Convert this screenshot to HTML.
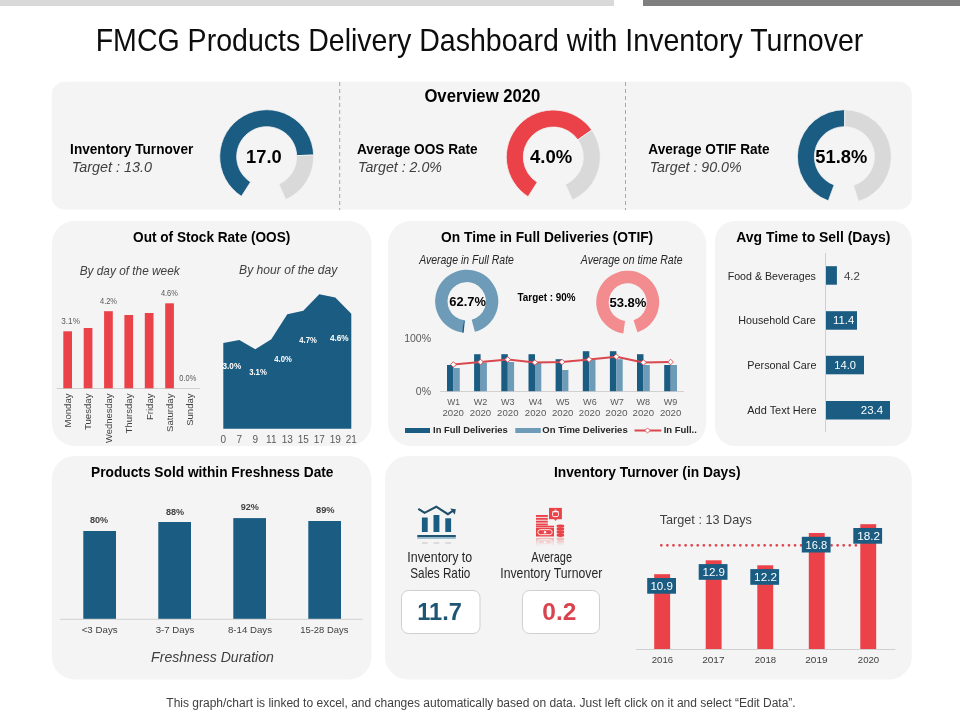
<!DOCTYPE html>
<html lang="en"><head><meta charset="utf-8"><title>FMCG Products Delivery Dashboard with Inventory Turnover</title>
<style>html,body{margin:0;padding:0;background:#fff}body{width:960px;height:720px;overflow:hidden}svg{display:block;font-family:"Liberation Sans", Arial, sans-serif}</style></head><body>
<svg width="960" height="720" viewBox="0 0 960 720">
<rect x="0" y="0" width="960" height="720" fill="#fff"/>
<rect x="0" y="0" width="614" height="6" fill="#d9d9d9"/>
<rect x="643" y="0" width="317" height="6" fill="#7f7f7f"/>
<text x="95.7" y="51.3" font-size="31.8" fill="#0d0d0d" textLength="767.6" lengthAdjust="spacingAndGlyphs">FMCG Products Delivery Dashboard with Inventory Turnover</text>
<rect x="51.7" y="81.8" width="860.1" height="127.7" fill="#f4f4f4" rx="13"/>
<rect x="51.8" y="221" width="319.7" height="225" fill="#f4f4f4" rx="23"/>
<rect x="388" y="221" width="318.3" height="225" fill="#f4f4f4" rx="23"/>
<rect x="715" y="221" width="196.8" height="225" fill="#f4f4f4" rx="20"/>
<rect x="51.8" y="456" width="319.7" height="223.6" fill="#f4f4f4" rx="23"/>
<rect x="385" y="456" width="526.8" height="223.6" fill="#f4f4f4" rx="23"/>
<line x1="339.7" y1="82" x2="339.7" y2="210" stroke="#a6a6a6" stroke-width="1" stroke-dasharray="4 3"/>
<line x1="625.5" y1="82" x2="625.5" y2="210" stroke="#a6a6a6" stroke-width="1" stroke-dasharray="4 3"/>
<text x="424.4" y="102.3" font-size="18.8" fill="#000" font-weight="bold" textLength="116.0" lengthAdjust="spacingAndGlyphs">Overview 2020</text>
<text x="70.1" y="154" font-size="15" fill="#000" font-weight="bold" textLength="123.2" lengthAdjust="spacingAndGlyphs">Inventory Turnover</text>
<text x="71.7" y="171.8" font-size="13.9" fill="#404040" font-style="italic" textLength="80.2" lengthAdjust="spacingAndGlyphs">Target : 13.0</text>
<text x="357.0" y="154" font-size="15" fill="#000" font-weight="bold" textLength="120.7" lengthAdjust="spacingAndGlyphs">Average OOS Rate</text>
<text x="358.1" y="171.8" font-size="13.9" fill="#404040" font-style="italic" textLength="83.8" lengthAdjust="spacingAndGlyphs">Target : 2.0%</text>
<text x="648.3" y="154" font-size="15" fill="#000" font-weight="bold" textLength="121.4" lengthAdjust="spacingAndGlyphs">Average OTIF Rate</text>
<text x="649.7" y="171.8" font-size="13.9" fill="#404040" font-style="italic" textLength="92.0" lengthAdjust="spacingAndGlyphs">Target : 90.0%</text>
<path d="M241.45 196.34A47 47 0 1 1 313.67 155.06L296.68 155.65A30 30 0 1 0 250.58 182.00Z" fill="#1b5c82" stroke="#f4f4f4" stroke-width="0.8"/>
<path d="M313.67 155.06A47 47 0 0 1 285.82 199.64L278.90 184.11A30 30 0 0 0 296.68 155.65Z" fill="#d9d9d9" stroke="#f4f4f4" stroke-width="0.8"/>
<text x="246.1" y="162.6" font-size="18.2" fill="#000" font-weight="bold" textLength="35.6" lengthAdjust="spacingAndGlyphs">17.0</text>
<path d="M528.05 196.64A47 47 0 1 1 591.80 130.04L577.87 139.79A30 30 0 1 0 537.18 182.30Z" fill="#ea4248" stroke="#f4f4f4" stroke-width="0.8"/>
<path d="M591.80 130.04A47 47 0 0 1 572.42 199.94L565.50 184.41A30 30 0 0 0 577.87 139.79Z" fill="#d9d9d9" stroke="#f4f4f4" stroke-width="0.8"/>
<text x="530" y="162.6" font-size="18.2" fill="#000" font-weight="bold" textLength="42.2" lengthAdjust="spacingAndGlyphs">4.0%</text>
<path d="M828.33 200.87A47 47 0 0 1 844.81 109.70L844.66 126.70A30 30 0 0 0 834.14 184.89Z" fill="#1b5c82" stroke="#f4f4f4" stroke-width="0.8"/>
<path d="M844.81 109.70A47 47 0 0 1 858.53 201.52L853.42 185.31A30 30 0 0 0 844.66 126.70Z" fill="#d9d9d9" stroke="#f4f4f4" stroke-width="0.8"/>
<text x="815.3" y="162.6" font-size="18.2" fill="#000" font-weight="bold" textLength="52.0" lengthAdjust="spacingAndGlyphs">51.8%</text>
<text x="133.1" y="242" font-size="15" fill="#000" font-weight="bold" textLength="157.2" lengthAdjust="spacingAndGlyphs">Out of Stock Rate (OOS)</text>
<text x="79.7" y="274.7" font-size="13.4" fill="#404040" font-style="italic" textLength="100.0" lengthAdjust="spacingAndGlyphs">By day of the week</text>
<text x="239.1" y="274.3" font-size="13.4" fill="#404040" font-style="italic" textLength="98.3" lengthAdjust="spacingAndGlyphs">By hour of the day</text>
<line x1="56.7" y1="388.5" x2="200" y2="388.5" stroke="#d0d0d0" stroke-width="1"/>
<rect x="63.3" y="331.3" width="8.7" height="57.0" fill="#ea4248"/>
<rect x="83.7" y="328" width="8.7" height="60.3" fill="#ea4248"/>
<rect x="104.1" y="311.2" width="8.7" height="77.1" fill="#ea4248"/>
<rect x="124.4" y="315" width="8.7" height="73.3" fill="#ea4248"/>
<rect x="144.8" y="313" width="8.7" height="75.3" fill="#ea4248"/>
<rect x="165.2" y="303.3" width="8.7" height="85.0" fill="#ea4248"/>
<text transform="translate(71.0 393.5) rotate(-90)" font-size="9.5" fill="#404040" text-anchor="end" textLength="34" lengthAdjust="spacingAndGlyphs">Monday</text>
<text transform="translate(91.4 393.5) rotate(-90)" font-size="9.5" fill="#404040" text-anchor="end" textLength="36.5" lengthAdjust="spacingAndGlyphs">Tuesday</text>
<text transform="translate(111.8 393.5) rotate(-90)" font-size="9.5" fill="#404040" text-anchor="end" textLength="49.5" lengthAdjust="spacingAndGlyphs">Wednesday</text>
<text transform="translate(132.2 393.5) rotate(-90)" font-size="9.5" fill="#404040" text-anchor="end" textLength="40" lengthAdjust="spacingAndGlyphs">Thursday</text>
<text transform="translate(152.6 393.5) rotate(-90)" font-size="9.5" fill="#404040" text-anchor="end" textLength="26.5" lengthAdjust="spacingAndGlyphs">Friday</text>
<text transform="translate(172.9 393.5) rotate(-90)" font-size="9.5" fill="#404040" text-anchor="end" textLength="38.5" lengthAdjust="spacingAndGlyphs">Saturday</text>
<text transform="translate(193.3 393.5) rotate(-90)" font-size="9.5" fill="#404040" text-anchor="end" textLength="32.3" lengthAdjust="spacingAndGlyphs">Sunday</text>
<text x="61.3" y="323.7" font-size="8.5" fill="#595959" textLength="18.6" lengthAdjust="spacingAndGlyphs">3.1%</text>
<text x="100.0" y="303.7" font-size="8.5" fill="#595959" textLength="17.0" lengthAdjust="spacingAndGlyphs">4.2%</text>
<text x="160.9" y="295.8" font-size="8.5" fill="#595959" textLength="17.0" lengthAdjust="spacingAndGlyphs">4.6%</text>
<text x="179.3" y="380.8" font-size="8.5" fill="#595959" textLength="17.0" lengthAdjust="spacingAndGlyphs">0.0%</text>
<path d="M223.3 428.7 L223.3 343 L239.3 340 L255.3 349.2 L271.3 339.2 L287.3 314.2 L303.3 310.8 L319.3 294.2 L335.3 297.5 L351.3 313.7 L351.3 428.7Z" fill="#1b5c82"/>
<text x="222.55" y="368.7" font-size="8.4" fill="#fff" font-weight="bold" textLength="18.6" lengthAdjust="spacingAndGlyphs">3.0%</text>
<text x="249.15" y="375" font-size="8.4" fill="#fff" font-weight="bold" textLength="17.7" lengthAdjust="spacingAndGlyphs">3.1%</text>
<text x="274.25" y="361.5" font-size="8.4" fill="#fff" font-weight="bold" textLength="17.5" lengthAdjust="spacingAndGlyphs">4.0%</text>
<text x="299.25" y="342.5" font-size="8.4" fill="#fff" font-weight="bold" textLength="17.5" lengthAdjust="spacingAndGlyphs">4.7%</text>
<text x="329.9" y="340.8" font-size="8.4" fill="#fff" font-weight="bold" textLength="18.8" lengthAdjust="spacingAndGlyphs">4.6%</text>
<text x="223.3" y="442.5" font-size="10" fill="#595959" text-anchor="middle">0</text>
<text x="239.3" y="442.5" font-size="10" fill="#595959" text-anchor="middle">7</text>
<text x="255.3" y="442.5" font-size="10" fill="#595959" text-anchor="middle">9</text>
<text x="271.3" y="442.5" font-size="10" fill="#595959" text-anchor="middle">11</text>
<text x="287.3" y="442.5" font-size="10" fill="#595959" text-anchor="middle">13</text>
<text x="303.3" y="442.5" font-size="10" fill="#595959" text-anchor="middle">15</text>
<text x="319.3" y="442.5" font-size="10" fill="#595959" text-anchor="middle">17</text>
<text x="335.3" y="442.5" font-size="10" fill="#595959" text-anchor="middle">19</text>
<text x="351.3" y="442.5" font-size="10" fill="#595959" text-anchor="middle">21</text>
<text x="441.1" y="242" font-size="15" fill="#000" font-weight="bold" textLength="212.1" lengthAdjust="spacingAndGlyphs">On Time in Full Deliveries (OTIF)</text>
<text x="419.2" y="263.8" font-size="12.2" fill="#262626" font-style="italic" textLength="94.7" lengthAdjust="spacingAndGlyphs">Average in Full Rate</text>
<text x="580.8" y="263.8" font-size="12.2" fill="#262626" font-style="italic" textLength="101.7" lengthAdjust="spacingAndGlyphs">Average on time Rate</text>
<path d="M462.30 332.59A31.6 31.6 0 1 1 474.88 331.82L471.67 319.85A19.2 19.2 0 1 0 464.03 320.31Z" fill="#6e9cb8"/>
<path d="M463.67 332.75A31.6 31.6 0 0 1 462.03 332.55L463.86 320.29A19.2 19.2 0 0 0 464.86 320.41Z" fill="#1b5c82"/>
<text x="449.3" y="305.6" font-size="13" fill="#000" font-weight="bold" textLength="36.6" lengthAdjust="spacingAndGlyphs">62.7%</text>
<path d="M623.32 333.39A31.5 31.5 0 1 1 637.43 332.16L633.57 320.27A19 19 0 1 0 625.06 321.02Z" fill="#f28c8f"/>
<text x="609.4" y="306.5" font-size="13" fill="#000" font-weight="bold" textLength="37.0" lengthAdjust="spacingAndGlyphs">53.8%</text>
<text x="517.5" y="300.6" font-size="10" fill="#000" font-weight="bold" textLength="58.0" lengthAdjust="spacingAndGlyphs">Target : 90%</text>
<text x="431" y="341.7" font-size="10.5" fill="#595959" text-anchor="end">100%</text>
<text x="431" y="395" font-size="10.5" fill="#595959" text-anchor="end">0%</text>
<line x1="440" y1="391.5" x2="684" y2="391.5" stroke="#d0d0d0" stroke-width="1"/>
<rect x="447.0" y="365" width="6.5" height="26.2" fill="#1b5c82"/>
<rect x="453.5" y="368" width="6.3" height="23.2" fill="#6e9cb8"/>
<text x="447.35" y="404.7" font-size="9.5" fill="#595959" textLength="12.7" lengthAdjust="spacingAndGlyphs">W1</text>
<text x="442.5" y="415.8" font-size="9.5" fill="#595959" textLength="21.4" lengthAdjust="spacingAndGlyphs">2020</text>
<rect x="474.1" y="354.2" width="6.5" height="37.0" fill="#1b5c82"/>
<rect x="480.6" y="362.5" width="6.3" height="28.7" fill="#6e9cb8"/>
<text x="473.7" y="404.7" font-size="9.5" fill="#595959" textLength="13.7" lengthAdjust="spacingAndGlyphs">W2</text>
<text x="469.8" y="415.8" font-size="9.5" fill="#595959" textLength="21.4" lengthAdjust="spacingAndGlyphs">2020</text>
<rect x="501.3" y="354.2" width="6.5" height="37.0" fill="#1b5c82"/>
<rect x="507.8" y="362" width="6.3" height="29.2" fill="#6e9cb8"/>
<text x="501.0" y="404.7" font-size="9.5" fill="#595959" textLength="13.6" lengthAdjust="spacingAndGlyphs">W3</text>
<text x="497.1" y="415.8" font-size="9.5" fill="#595959" textLength="21.4" lengthAdjust="spacingAndGlyphs">2020</text>
<rect x="528.5" y="354.2" width="6.5" height="37.0" fill="#1b5c82"/>
<rect x="535.0" y="363" width="6.3" height="28.2" fill="#6e9cb8"/>
<text x="528.8" y="404.7" font-size="9.5" fill="#595959" textLength="13.6" lengthAdjust="spacingAndGlyphs">W4</text>
<text x="524.85" y="415.8" font-size="9.5" fill="#595959" textLength="21.4" lengthAdjust="spacingAndGlyphs">2020</text>
<rect x="555.6" y="359.2" width="6.5" height="32.0" fill="#1b5c82"/>
<rect x="562.1" y="370" width="6.3" height="21.2" fill="#6e9cb8"/>
<text x="555.95" y="404.7" font-size="9.5" fill="#595959" textLength="13.6" lengthAdjust="spacingAndGlyphs">W5</text>
<text x="552.0" y="415.8" font-size="9.5" fill="#595959" textLength="21.4" lengthAdjust="spacingAndGlyphs">2020</text>
<rect x="582.8" y="351.2" width="6.5" height="40.0" fill="#1b5c82"/>
<rect x="589.2" y="360" width="6.3" height="31.2" fill="#6e9cb8"/>
<text x="583.1" y="404.7" font-size="9.5" fill="#595959" textLength="13.6" lengthAdjust="spacingAndGlyphs">W6</text>
<text x="578.85" y="415.8" font-size="9.5" fill="#595959" textLength="21.4" lengthAdjust="spacingAndGlyphs">2020</text>
<rect x="609.9" y="351.2" width="6.5" height="40.0" fill="#1b5c82"/>
<rect x="616.4" y="359.2" width="6.3" height="32.0" fill="#6e9cb8"/>
<text x="610.25" y="404.7" font-size="9.5" fill="#595959" textLength="13.6" lengthAdjust="spacingAndGlyphs">W7</text>
<text x="605.3" y="415.8" font-size="9.5" fill="#595959" textLength="22.4" lengthAdjust="spacingAndGlyphs">2020</text>
<rect x="637.0" y="354.2" width="6.5" height="37.0" fill="#1b5c82"/>
<rect x="643.5" y="365" width="6.3" height="26.2" fill="#6e9cb8"/>
<text x="636.5" y="404.7" font-size="9.5" fill="#595959" textLength="13.6" lengthAdjust="spacingAndGlyphs">W8</text>
<text x="632.6" y="415.8" font-size="9.5" fill="#595959" textLength="21.4" lengthAdjust="spacingAndGlyphs">2020</text>
<rect x="664.2" y="365" width="6.5" height="26.2" fill="#1b5c82"/>
<rect x="670.7" y="365" width="6.3" height="26.2" fill="#6e9cb8"/>
<text x="663.8" y="404.7" font-size="9.5" fill="#595959" textLength="13.6" lengthAdjust="spacingAndGlyphs">W9</text>
<text x="659.9" y="415.8" font-size="9.5" fill="#595959" textLength="21.4" lengthAdjust="spacingAndGlyphs">2020</text>
<polyline points="453.4,364.5 480.5,362 507.7,359.5 534.9,362.5 562.0,362 589.1,359.5 616.3,356.7 643.4,362.5 670.6,362" fill="none" stroke="#d9484f" stroke-width="2" stroke-linejoin="round"/>
<path d="M450.6 364.5L453.4 361.7L456.2 364.5L453.4 367.3Z" fill="#fff" stroke="#d9484f" stroke-width="0.9"/>
<path d="M477.7 362L480.5 359.2L483.3 362L480.5 364.8Z" fill="#fff" stroke="#d9484f" stroke-width="0.9"/>
<path d="M504.9 359.5L507.7 356.7L510.5 359.5L507.7 362.3Z" fill="#fff" stroke="#d9484f" stroke-width="0.9"/>
<path d="M532.1 362.5L534.9 359.7L537.7 362.5L534.9 365.3Z" fill="#fff" stroke="#d9484f" stroke-width="0.9"/>
<path d="M559.2 362L562.0 359.2L564.8 362L562.0 364.8Z" fill="#fff" stroke="#d9484f" stroke-width="0.9"/>
<path d="M586.3 359.5L589.1 356.7L591.9 359.5L589.1 362.3Z" fill="#fff" stroke="#d9484f" stroke-width="0.9"/>
<path d="M613.5 356.7L616.3 353.9L619.1 356.7L616.3 359.5Z" fill="#fff" stroke="#d9484f" stroke-width="0.9"/>
<path d="M640.6 362.5L643.4 359.7L646.2 362.5L643.4 365.3Z" fill="#fff" stroke="#d9484f" stroke-width="0.9"/>
<path d="M667.8 362L670.6 359.2L673.4 362L670.6 364.8Z" fill="#fff" stroke="#d9484f" stroke-width="0.9"/>
<rect x="405" y="428" width="25" height="5" fill="#1b5c82"/>
<text x="433.1" y="432.5" font-size="9" fill="#262626" font-weight="bold" textLength="74.6" lengthAdjust="spacingAndGlyphs">In Full Deliveries</text>
<rect x="515.3" y="428" width="25.5" height="5" fill="#6e9cb8"/>
<text x="542.3" y="432.5" font-size="9" fill="#262626" font-weight="bold" textLength="85.4" lengthAdjust="spacingAndGlyphs">On Time Deliveries</text>
<line x1="634.5" y1="430.5" x2="661.3" y2="430.5" stroke="#d9484f" stroke-width="2"/>
<path d="M644.9 430.5L647.5 427.9L650.1 430.5L647.5 433.1Z" fill="#fff" stroke="#d9484f" stroke-width="0.8"/>
<text x="663.7" y="432.5" font-size="9" fill="#262626" font-weight="bold" textLength="33.1" lengthAdjust="spacingAndGlyphs">In Full..</text>
<text x="736.3" y="242" font-size="15" fill="#000" font-weight="bold" textLength="154.0" lengthAdjust="spacingAndGlyphs">Avg Time to Sell (Days)</text>
<line x1="825.5" y1="253" x2="825.5" y2="432" stroke="#d0d0d0" stroke-width="1"/>
<rect x="826" y="266.2" width="10.9" height="18.5" fill="#1b5c82"/>
<rect x="826" y="311.2" width="31" height="18.5" fill="#1b5c82"/>
<rect x="826" y="355.8" width="38" height="18.5" fill="#1b5c82"/>
<rect x="826" y="401" width="64" height="18.5" fill="#1b5c82"/>
<text x="727.7" y="279.7" font-size="10.5" fill="#262626" textLength="88.2" lengthAdjust="spacingAndGlyphs">Food &amp; Beverages</text>
<text x="738.2" y="323.7" font-size="10.5" fill="#262626" textLength="77.6" lengthAdjust="spacingAndGlyphs">Household Care</text>
<text x="747.3" y="368.8" font-size="10.5" fill="#262626" textLength="69.2" lengthAdjust="spacingAndGlyphs">Personal Care</text>
<text x="747.3" y="413.8" font-size="10.5" fill="#262626" textLength="69.2" lengthAdjust="spacingAndGlyphs">Add Text Here</text>
<text x="843.9" y="279.7" font-size="10.5" fill="#404040" textLength="16.0" lengthAdjust="spacingAndGlyphs">4.2</text>
<text x="833.1" y="323.7" font-size="10.5" fill="#fff" textLength="21.2" lengthAdjust="spacingAndGlyphs">11.4</text>
<text x="834.3" y="368.8" font-size="10.5" fill="#fff" textLength="21.7" lengthAdjust="spacingAndGlyphs">14.0</text>
<text x="860.8" y="413.8" font-size="10.5" fill="#fff" textLength="22.4" lengthAdjust="spacingAndGlyphs">23.4</text>
<text x="91.1" y="476.8" font-size="15" fill="#000" font-weight="bold" textLength="242.4" lengthAdjust="spacingAndGlyphs">Products Sold within Freshness Date</text>
<line x1="60.3" y1="619.3" x2="362.8" y2="619.3" stroke="#d0d0d0" stroke-width="1"/>
<rect x="83.3" y="531" width="32.7" height="87.8" fill="#1b5c82"/>
<rect x="158.3" y="522" width="32.7" height="96.8" fill="#1b5c82"/>
<rect x="233.3" y="518.1" width="32.7" height="100.7" fill="#1b5c82"/>
<rect x="308.3" y="521" width="32.7" height="97.8" fill="#1b5c82"/>
<text x="90" y="522.7" font-size="9.8" fill="#404040" font-weight="bold" textLength="18.2" lengthAdjust="spacingAndGlyphs">80%</text>
<text x="166" y="514.8" font-size="9.8" fill="#404040" font-weight="bold" textLength="18.2" lengthAdjust="spacingAndGlyphs">88%</text>
<text x="240.7" y="509.8" font-size="9.8" fill="#404040" font-weight="bold" textLength="18.2" lengthAdjust="spacingAndGlyphs">92%</text>
<text x="316" y="512.7" font-size="9.8" fill="#404040" font-weight="bold" textLength="18.6" lengthAdjust="spacingAndGlyphs">89%</text>
<text x="81.7" y="632.8" font-size="9.2" fill="#404040" textLength="36.0" lengthAdjust="spacingAndGlyphs">&lt;3 Days</text>
<text x="155.7" y="632.8" font-size="9.2" fill="#404040" textLength="38.6" lengthAdjust="spacingAndGlyphs">3-7 Days</text>
<text x="228" y="632.8" font-size="9.2" fill="#404040" textLength="44.0" lengthAdjust="spacingAndGlyphs">8-14 Days</text>
<text x="300.2" y="632.8" font-size="9.2" fill="#404040" textLength="48.2" lengthAdjust="spacingAndGlyphs">15-28 Days</text>
<text x="151.1" y="662.2" font-size="14.8" fill="#404040" font-style="italic" textLength="122.8" lengthAdjust="spacingAndGlyphs">Freshness Duration</text>
<text x="553.9" y="477" font-size="15" fill="#000" font-weight="bold" textLength="186.6" lengthAdjust="spacingAndGlyphs">Inventory Turnover (in Days)</text>
<text x="407.3" y="562.2" font-size="14.3" fill="#262626" textLength="64.9" lengthAdjust="spacingAndGlyphs">Inventory to</text>
<text x="410.3" y="578.2" font-size="14.3" fill="#262626" textLength="60.0" lengthAdjust="spacingAndGlyphs">Sales Ratio</text>
<text x="531.3" y="562.2" font-size="14.3" fill="#262626" textLength="40.7" lengthAdjust="spacingAndGlyphs">Average</text>
<text x="500.3" y="578.2" font-size="14.3" fill="#262626" textLength="102.0" lengthAdjust="spacingAndGlyphs">Inventory Turnover</text>
<rect x="401.5" y="590.5" width="78.5" height="43" rx="7" fill="#fff" stroke="#cfcfcf" stroke-width="1"/>
<rect x="522.5" y="590.5" width="77" height="43" rx="7" fill="#fff" stroke="#cfcfcf" stroke-width="1"/>
<text x="417.3" y="620" font-size="23" fill="#1f5574" font-weight="bold" textLength="44.6" lengthAdjust="spacingAndGlyphs">11.7</text>
<text x="542.3" y="620" font-size="23" fill="#d9434e" font-weight="bold" textLength="34.0" lengthAdjust="spacingAndGlyphs">0.2</text>
<g id="icon-chart"><rect x="417.3" y="535" width="38.5" height="2.2" fill="#1f5572"/><rect x="417.3" y="537.2" width="38.5" height="1.6" fill="#8fb3c8"/>
<rect x="421.9" y="517.5" width="5.8" height="14.5" fill="#1b5c82"/>
<rect x="433.5" y="515" width="5.9" height="17" fill="#1b5c82"/>
<rect x="445.3" y="518.3" width="5.8" height="13.7" fill="#1b5c82"/>
<polyline points="418.3,508.8 424.6,512.9 436.3,506.7 447.9,514.2 453.6,510.4" fill="none" stroke="#1f4e68" stroke-width="2.1" stroke-linejoin="miter"/>
<path d="M450.2 508.6L455.8 509.2L454.8 514.8Z" fill="#1f4e68"/>
<rect x="421.9" y="542" width="5.8" height="2" fill="#dcdcdc"/>
<rect x="433.5" y="542" width="5.8" height="2" fill="#dcdcdc"/>
<rect x="445.3" y="542" width="5.8" height="2" fill="#dcdcdc"/>
</g>
<linearGradient id="fd" gradientUnits="userSpaceOnUse" x1="0" y1="537" x2="0" y2="546"><stop offset="0" stop-color="#fff" stop-opacity=".42"/><stop offset="1" stop-color="#fff" stop-opacity="0"/></linearGradient>
<mask id="mk" maskUnits="userSpaceOnUse" x="530" y="536" width="40" height="12"><rect x="530" y="536" width="40" height="12" fill="url(#fd)"/></mask>
<g id="icon-money">
<rect x="549" y="507.9" width="12.9" height="11.3" fill="#ea4248"/>
<path d="M554 519L555.5 521L557 519Z" fill="#ea4248"/>
<rect x="552.6" y="511.7" width="5.8" height="4.9" rx="1.3" fill="none" stroke="#fff" stroke-width="0.9"/><path d="M552.3 511.6h6.4M554.4 510.2h2.2" stroke="#fff" stroke-width="0.9" fill="none"/>
<rect x="536" y="515.0" width="11.8" height="1.9" fill="#ea4248"/>
<rect x="536" y="517.85" width="11.8" height="1.9" fill="#ea4248"/>
<rect x="536" y="520.7" width="11.8" height="1.9" fill="#ea4248"/>
<rect x="536" y="523.55" width="11.8" height="1.9" fill="#ea4248"/>
<rect x="536" y="525.7" width="18" height="1.7" fill="#ea4248"/>
<rect x="536" y="527.9" width="18" height="8.6" fill="#ea4248"/>
<rect x="537.8" y="529.7" width="14.4" height="5" rx="2.5" fill="none" stroke="#fff" stroke-width="0.9"/><circle cx="545" cy="532.2" r="1.2" fill="#fff"/>
<path d="M556.7 525.5a3.7 1.1 0 0 1 7.4 0v1.2a3.7 1.1 0 0 1 -7.4 0Z" fill="#ea4248"/>
<path d="M556.7 528.55a3.7 1.1 0 0 1 7.4 0v1.2a3.7 1.1 0 0 1 -7.4 0Z" fill="#ea4248"/>
<path d="M556.7 531.6a3.7 1.1 0 0 1 7.4 0v1.2a3.7 1.1 0 0 1 -7.4 0Z" fill="#ea4248"/>
<path d="M556.7 534.65a3.7 1.1 0 0 1 7.4 0v1.2a3.7 1.1 0 0 1 -7.4 0Z" fill="#ea4248"/>
</g>
<g mask="url(#mk)"><g transform="translate(0 1074.4) scale(1 -1)">
<rect x="549" y="507.9" width="12.9" height="11.3" fill="#ea4248"/>
<path d="M554 519L555.5 521L557 519Z" fill="#ea4248"/>
<rect x="552.6" y="511.7" width="5.8" height="4.9" rx="1.3" fill="none" stroke="#fff" stroke-width="0.9"/><path d="M552.3 511.6h6.4M554.4 510.2h2.2" stroke="#fff" stroke-width="0.9" fill="none"/>
<rect x="536" y="515.0" width="11.8" height="1.9" fill="#ea4248"/>
<rect x="536" y="517.85" width="11.8" height="1.9" fill="#ea4248"/>
<rect x="536" y="520.7" width="11.8" height="1.9" fill="#ea4248"/>
<rect x="536" y="523.55" width="11.8" height="1.9" fill="#ea4248"/>
<rect x="536" y="525.7" width="18" height="1.7" fill="#ea4248"/>
<rect x="536" y="527.9" width="18" height="8.6" fill="#ea4248"/>
<rect x="537.8" y="529.7" width="14.4" height="5" rx="2.5" fill="none" stroke="#fff" stroke-width="0.9"/><circle cx="545" cy="532.2" r="1.2" fill="#fff"/>
<path d="M556.7 525.5a3.7 1.1 0 0 1 7.4 0v1.2a3.7 1.1 0 0 1 -7.4 0Z" fill="#ea4248"/>
<path d="M556.7 528.55a3.7 1.1 0 0 1 7.4 0v1.2a3.7 1.1 0 0 1 -7.4 0Z" fill="#ea4248"/>
<path d="M556.7 531.6a3.7 1.1 0 0 1 7.4 0v1.2a3.7 1.1 0 0 1 -7.4 0Z" fill="#ea4248"/>
<path d="M556.7 534.65a3.7 1.1 0 0 1 7.4 0v1.2a3.7 1.1 0 0 1 -7.4 0Z" fill="#ea4248"/>
</g></g>
<text x="659.7" y="524.4" font-size="13.3" fill="#404040" textLength="92.2" lengthAdjust="spacingAndGlyphs">Target : 13 Days</text>
<line x1="636" y1="649.5" x2="895.3" y2="649.5" stroke="#d0d0d0" stroke-width="1"/>
<line x1="661.3" y1="545.3" x2="862" y2="545.3" stroke="#e0454c" stroke-width="2.8" stroke-dasharray="0 6.08" stroke-linecap="round"/>
<rect x="654.2" y="574.2" width="15.9" height="74.8" fill="#ea4248"/>
<rect x="647.2" y="578.0" width="28.8" height="15.7" fill="#1b5c82"/>
<text x="650.4" y="589.9" font-size="11" fill="#fff" textLength="22.6" lengthAdjust="spacingAndGlyphs">10.9</text>
<text x="651.7" y="662.5" font-size="9.2" fill="#404040" textLength="21.4" lengthAdjust="spacingAndGlyphs">2016</text>
<rect x="705.7" y="560.3" width="15.9" height="88.7" fill="#ea4248"/>
<rect x="698.7" y="564.1" width="28.8" height="15.7" fill="#1b5c82"/>
<text x="702.46" y="576.0" font-size="11" fill="#fff" textLength="22.6" lengthAdjust="spacingAndGlyphs">12.9</text>
<text x="702.16" y="662.5" font-size="9.2" fill="#404040" textLength="22.4" lengthAdjust="spacingAndGlyphs">2017</text>
<rect x="757.3" y="565.3" width="15.9" height="83.7" fill="#ea4248"/>
<rect x="750.3" y="569.1" width="28.8" height="15.7" fill="#1b5c82"/>
<text x="754.13" y="581.0" font-size="11" fill="#fff" textLength="22.8" lengthAdjust="spacingAndGlyphs">12.2</text>
<text x="754.76" y="662.5" font-size="9.2" fill="#404040" textLength="21.4" lengthAdjust="spacingAndGlyphs">2018</text>
<rect x="808.8" y="533" width="15.9" height="116" fill="#ea4248"/>
<rect x="801.8" y="536.8" width="28.8" height="15.7" fill="#1b5c82"/>
<text x="805.58" y="548.7" font-size="11" fill="#fff" textLength="21.7" lengthAdjust="spacingAndGlyphs">16.8</text>
<text x="805.28" y="662.5" font-size="9.2" fill="#404040" textLength="22.4" lengthAdjust="spacingAndGlyphs">2019</text>
<rect x="860.3" y="524.2" width="15.9" height="124.8" fill="#ea4248"/>
<rect x="853.3" y="528.0" width="28.8" height="15.7" fill="#1b5c82"/>
<text x="857.31" y="539.9" font-size="11" fill="#fff" textLength="22.8" lengthAdjust="spacingAndGlyphs">18.2</text>
<text x="857.82" y="662.5" font-size="9.2" fill="#404040" textLength="21.4" lengthAdjust="spacingAndGlyphs">2020</text>
<text x="166.3" y="707" font-size="12" fill="#404040" textLength="629.4" lengthAdjust="spacingAndGlyphs">This graph/chart is linked to excel, and changes automatically based on data. Just left click on it and select “Edit Data”.</text>
</svg></body></html>
